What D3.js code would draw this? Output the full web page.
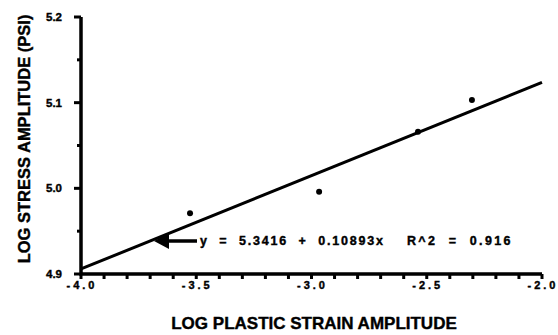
<!DOCTYPE html>
<html>
<head>
<meta charset="utf-8">
<script src="https://cdn.jsdelivr.net/npm/d3@7"></script>
<style>
  body { margin: 0; background: #fff; }
  text { font-family: "Liberation Sans", Arial, sans-serif; font-weight: bold; fill: #000; stroke: #000; stroke-width: 0.4px; }
</style>
</head>
<body>
<svg id="chart" width="558" height="335"></svg>
<script>
/* ---------------- data ---------------- */
const strainX = [-3.527, -2.967, -2.538, -2.304];
const stressY = [4.971, 4.996, 5.066, 5.103];
const fitIntercept = 5.3416;
const fitSlope = 0.10893;
const xTicks = [-4.0, -3.5, -3.0, -2.5, -2.0];
const yTicks = [4.9, 5.0, 5.1, 5.2];
const eqLabel = "y  =  5.3416  +  0.10893x";
const r2Label = "R^2  =  0.916";

/* ---------------- layout ---------------- */
const svg = d3.select("#chart");
const x = d3.scaleLinear().domain([-4, -2]).range([81, 542]);
const y = d3.scaleLinear().domain([4.9, 5.2]).range([274, 17]);

// minor ticks
const xMinor = d3.range(-4, -1.95, 0.1).map(v => +v.toFixed(2));
const yMinor = [4.95, 5.05, 5.15];

svg.selectAll(".xm").data(xMinor).enter().append("line")
    .attr("x1", d => x(d)).attr("x2", d => x(d))
    .attr("y1", y(4.9)).attr("y2", y(4.9) + 5)
    .attr("stroke", "#000").attr("stroke-width", 3);

svg.selectAll(".ym").data(yTicks.concat(yMinor)).enter().append("line")
    .attr("x1", x(-4)).attr("x2", d => x(-4) - (yTicks.includes(d) ? 7 : 4))
    .attr("y1", d => y(d)).attr("y2", d => y(d))
    .attr("stroke", "#000").attr("stroke-width", 3);

// axes lines
svg.append("path")
    .attr("d", `M${x(-4)},${y(5.2)}V${y(4.9)}H${x(-2)}`)
    .attr("fill", "none").attr("stroke", "#000").attr("stroke-width", 3.5);

// tick labels
svg.selectAll(".xl").data(xTicks).enter().append("text")
    .attr("x", d => x(d) + 1).attr("y", 289)
    .attr("text-anchor", "middle")
    .style("font-size", "11px").style("letter-spacing", "3px")
    .text(d => d.toFixed(1));

svg.selectAll(".yl").data(yTicks).enter().append("text")
    .attr("x", 62).attr("y", d => y(d) + 4)
    .attr("text-anchor", "end")
    .style("font-size", "11.5px")
    .text(d => d.toFixed(1));

// axis titles
svg.append("text")
    .attr("x", 314).attr("y", 329)
    .attr("text-anchor", "middle")
    .style("font-size", "17px")
    .text("LOG PLASTIC STRAIN AMPLITUDE");

svg.append("text")
    .attr("transform", "translate(30,139) rotate(-90)")
    .attr("text-anchor", "middle")
    .style("font-size", "16.5px")
    .text("LOG STRESS AMPLITUDE (PSI)");

// regression line
svg.append("line")
    .attr("x1", x(-4)).attr("y1", y(fitIntercept + fitSlope * -4))
    .attr("x2", x(-2)).attr("y2", y(fitIntercept + fitSlope * -2))
    .attr("stroke", "#000").attr("stroke-width", 3);

// points
svg.selectAll(".pt").data(strainX).enter().append("circle")
    .attr("cx", d => x(d)).attr("cy", (d, i) => y(stressY[i]))
    .attr("r", 3).attr("fill", "#000");

// arrow annotation
svg.append("line")
    .attr("x1", 164).attr("x2", 197).attr("y1", 241).attr("y2", 241)
    .attr("stroke", "#000").attr("stroke-width", 3.5);
svg.append("path")
    .attr("d", "M154,241L169,233L169,249Z").attr("fill", "#000");

svg.append("text")
    .attr("x", 200).attr("y", 245)
    .style("font-size", "12.5px").style("white-space", "pre").style("letter-spacing", "1.8px")
    .text(eqLabel);
svg.append("text")
    .attr("x", 407).attr("y", 245)
    .style("font-size", "12.5px").style("white-space", "pre").style("letter-spacing", "2.3px")
    .text(r2Label);
</script>
</body>
</html>
